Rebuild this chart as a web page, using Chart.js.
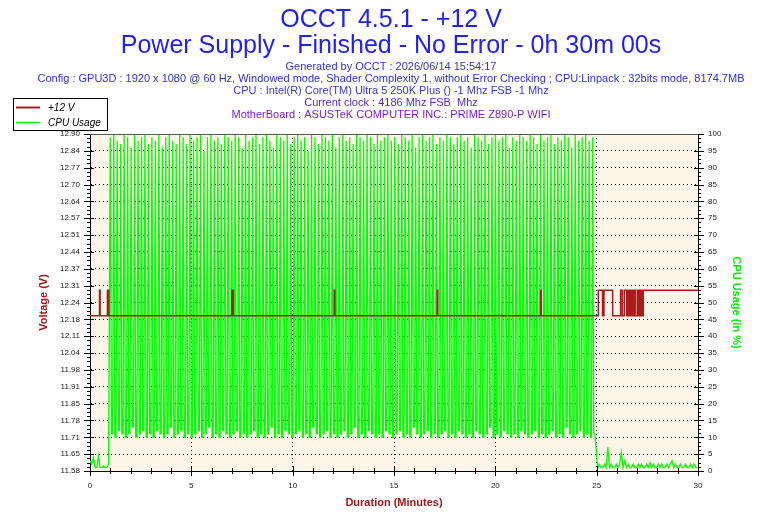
<!DOCTYPE html>
<html>
<head>
<meta charset="utf-8">
<title>OCCT 4.5.1 - +12 V</title>
<script src="https://cdn.jsdelivr.net/npm/chart.js@4.4.1/dist/chart.umd.min.js"></script>
<style>
  html, body { margin: 0; padding: 0; background: #fff; }
  #wrap { width: 780px; height: 520px; }
</style>
</head>
<body>
<div id="wrap"><canvas id="grafico" width="780" height="520"></canvas></div>
<script>
// Textos do cabeçalho
const titleText = ['OCCT 4.5.1 - +12 V', 'Power Supply - Finished - No Error - 0h 30m 00s'];
const infoText = [
  'Generated by OCCT : 2026/06/14 15:54:17',
  'Config : GPU3D : 1920 x 1080 @ 60 Hz, Windowed mode, Shader Complexity 1, without Error Checking ; CPU:Linpack : 32bits mode, 8174.7MB',
  'CPU : Intel(R) Core(TM) Ultra 5 250K Plus () -1 Mhz FSB -1 Mhz',
  'Current clock : 4186 Mhz FSB  Mhz',
  'MotherBoard : ASUSTeK COMPUTER INC.: PRIME Z890-P WIFI'
];

// Eixo da tensão (V)
const voltMin = 11.582;
const voltMax = 12.902;
const voltTickLabels = ['11.58', '11.65', '11.71', '11.78', '11.85', '11.91', '11.98', '12.04', '12.11', '12.18',
  '12.24', '12.31', '12.37', '12.44', '12.51', '12.57', '12.64', '12.70', '12.77', '12.84', '12.90'];

// +12 V: instantes de mudança (minutos) e valor lido
const voltTime = [0, 0.47, 0.50, 0.86, 0.93, 7.00, 7.07, 12.05, 12.08, 17.13, 17.16, 22.23, 22.26,
  25.08, 25.29, 25.36, 25.79, 26.18, 26.26, 26.36, 26.48, 26.53, 26.58, 26.64, 26.69, 26.76, 26.80,
  26.85, 26.90, 27.00, 27.05, 27.10, 27.15, 27.20, 27.27, 27.30, 30];
const voltValue = [12.19, 12.29, 12.19, 12.29, 12.19, 12.29, 12.19, 12.29, 12.19, 12.29, 12.19, 12.29, 12.19,
  12.29, 12.19, 12.29, 12.19, 12.29, 12.19, 12.29, 12.19, 12.29, 12.19, 12.29, 12.19, 12.29, 12.19,
  12.29, 12.19, 12.29, 12.19, 12.29, 12.19, 12.29, 12.19, 12.29, 12.29];

// CPU Usage (%): repouso antes do teste, amostras de 5 s
const cpuHead = [3, 2, 4, 1, 1, 4.5, 1, 1, 1.5, 1, 1, 2];
// Linpack: picos e vales de cada ciclo entre 1 e 25 min
const cpuHigh = [
  99, 100, 98, 97, 100, 99, 96, 100, 98, 99, 100, 97, 99, 98, 100, 96, 99, 100, 98, 97,
  100, 99, 97, 100, 98, 99, 100, 95, 99, 100, 98, 99, 97, 100, 99, 98, 100, 99, 96, 100,
  98, 99, 100, 97, 99, 100, 98, 96, 100, 99, 98, 100, 97, 99, 100, 98, 99, 95, 100, 99,
  97, 100, 99, 98, 100, 96, 99, 100, 98, 99, 97, 100, 99, 98, 100, 99, 97, 100, 98, 99,
  100, 98, 99, 97, 100, 99, 98, 100, 96, 99, 100, 98, 99, 100, 97, 99, 98, 100, 99, 97,
  99, 100, 98, 99, 96, 100, 99, 98, 100, 97, 99, 100, 98, 99, 100, 96, 99, 98, 100, 99,
  98, 100, 99, 97, 100, 98, 99, 100, 97, 99, 98, 100, 99, 96, 100, 98, 99, 100, 98, 99
];
const cpuLow = [
  11, 10, 12, 11, 10, 11, 13, 10, 11, 12, 10, 11, 10, 12, 11, 10, 11, 13, 10, 11,
  12, 10, 11, 10, 11, 12, 10, 11, 13, 10, 11, 10, 12, 11, 10, 11, 12, 10, 11, 10,
  11, 12, 10, 11, 10, 11, 13, 10, 11, 10, 12, 11, 10, 11, 12, 10, 11, 10, 13, 11,
  10, 11, 12, 10, 11, 10, 11, 12, 10, 11, 13, 10, 11, 10, 12, 11, 10, 11, 10, 12,
  11, 10, 11, 12, 10, 11, 10, 13, 11, 10, 11, 12, 10, 11, 10, 11, 12, 10, 11, 10,
  12, 11, 10, 11, 10, 12, 11, 10, 11, 13, 10, 11, 10, 12, 11, 10, 11, 10, 12, 11,
  10, 11, 12, 10, 11, 10, 11, 12, 10, 11, 10, 13, 11, 10, 11, 12, 10, 11, 10, 11
];
// depois do teste, amostras de 5 s a partir de 25.05 min
const cpuTail = [
  1, 2, 1, 1, 2, 1, 7, 1, 2, 1, 1, 2, 1, 2, 5.5, 1, 3, 1, 2, 1,
  1, 2, 1, 1, 2, 1, 2, 1, 1, 2, 1, 2.5, 1, 2, 1, 1, 2, 1, 2, 1,
  1, 2, 1, 2, 3, 1, 2, 1, 1, 2, 1, 1, 2, 1, 1, 2, 1, 2, 1, 1
];

const sampleStep = 5 / 60;
const runStart = 1.0;
const runEnd = 24.97;
const tailStart = 25.05;

const corTensao = '#a81c1c';
const corCpu = '#00ff00';

// Monta os pontos
const voltPoints = voltTime.map((t, i) => ({ x: t, y: voltValue[i] }));

const cpuPoints = [];
cpuHead.forEach((v, i) => cpuPoints.push({ x: i * sampleStep, y: v }));
const runStep = (runEnd - runStart) / (cpuHigh.length * 3);
cpuHigh.forEach((h, i) => {
  const t = runStart + i * 3 * runStep;
  cpuPoints.push({ x: t, y: h });
  cpuPoints.push({ x: t + runStep, y: cpuLow[i] });
  cpuPoints.push({ x: t + 2 * runStep, y: cpuLow[i] });
});
cpuTail.forEach((v, i) => cpuPoints.push({ x: tailStart + i * sampleStep, y: v }));

// Plugins de desenho
const fundo = {
  id: 'fundo',
  beforeDraw(chart) {
    const { ctx, chartArea: a } = chart;
    ctx.save();
    ctx.fillStyle = '#fff';
    ctx.fillRect(0, 0, chart.width, chart.height);
    ctx.fillStyle = '#fdf6e9';
    ctx.fillRect(a.left, a.top, a.right - a.left, a.bottom - a.top);
    ctx.restore();
  }
};

const cabecalho = {
  id: 'cabecalho',
  afterDraw(chart) {
    const ctx = chart.ctx;
    const cx = 391;
    ctx.save();
    ctx.textAlign = 'center';
    ctx.textBaseline = 'alphabetic';
    ctx.fillStyle = '#2222ee';
    ctx.font = '25px "Liberation Sans"';
    ctx.fillText(titleText[0], cx, 27);
    ctx.fillText(titleText[1], cx, 53);
    const cores = ['#3434d4', '#2e2ee6', '#3838d2', '#5529d6', '#7c1ed4'];
    ctx.font = '11px "Liberation Sans"';
    infoText.forEach((linha, i) => {
      ctx.fillStyle = cores[i];
      ctx.fillText(linha, cx, 70 + i * 12);
    });
    ctx.restore();
  }
};

const legendaBox = {
  id: 'legendaBox',
  afterDraw(chart) {
    const ctx = chart.ctx;
    ctx.save();
    ctx.fillStyle = '#fff';
    ctx.fillRect(13, 98, 95, 33);
    ctx.strokeStyle = '#000';
    ctx.lineWidth = 1;
    ctx.strokeRect(13.5, 98.5, 94, 32);
    ctx.font = 'italic 10px "Liberation Sans"';
    ctx.textBaseline = 'middle';
    chart.data.datasets.forEach((ds, i) => {
      const yy = 107.5 + i * 15;
      ctx.strokeStyle = ds.borderColor;
      ctx.lineWidth = i === 0 ? 2 : 1.5;
      ctx.beginPath();
      ctx.moveTo(16, yy);
      ctx.lineTo(40, yy);
      ctx.stroke();
      ctx.fillStyle = '#000';
      ctx.fillText(ds.label, 48, yy + 1);
    });
    ctx.restore();
  }
};

const marcas = {
  id: 'marcas',
  afterDraw(chart) {
    const { ctx, chartArea: a, scales: { x, y1 } } = chart;
    ctx.save();
    ctx.strokeStyle = '#000';
    ctx.lineWidth = 1;
    ctx.beginPath();
    // eixo X: um traço por minuto, maior a cada 5
    for (let m = 0; m <= 30; m++) {
      const px = Math.round(x.getPixelForValue(m)) + 0.5;
      const len = m % 5 === 0 ? 5 : 3;
      ctx.moveTo(px, a.bottom - len);
      ctx.lineTo(px, a.bottom + len);
    }
    // eixos Y: quatro subdivisões por intervalo
    for (let k = 0; k <= 80; k++) {
      const py = Math.round(y1.getPixelForValue(k * 1.25)) + 0.5;
      const major = k % 4 === 0;
      ctx.moveTo(a.left - (major ? 6 : 3), py);
      ctx.lineTo(a.left + (major ? 4 : 0), py);
      ctx.moveTo(a.right - (major ? 4 : 0), py);
      ctx.lineTo(a.right + (major ? 6 : 3), py);
    }
    ctx.stroke();
    ctx.beginPath();
    ctx.strokeStyle = '#555';
    ctx.moveTo(a.left, Math.round(a.top) + 0.5);
    ctx.lineTo(a.right, Math.round(a.top) + 0.5);
    ctx.stroke();
    ctx.restore();
  }
};

Chart.defaults.font.family = '"Liberation Sans", Arial, sans-serif';

const tickFont = { family: '"Liberation Sans"', size: 8 };
const titleFont = { family: '"Liberation Sans"', size: 11, weight: 'bold' };
const gridOpts = { color: '#000', lineWidth: 1, drawTicks: false };

const ctx = document.getElementById('grafico').getContext('2d');
const grafico = new Chart(ctx, {
  type: 'line',
  data: {
    datasets: [
      {
        label: '+12 V',
        data: voltPoints,
        yAxisID: 'y',
        borderColor: corTensao,
        borderWidth: 1.5,
        stepped: true,
        pointRadius: 0
      },
      {
        label: 'CPU Usage',
        data: cpuPoints,
        yAxisID: 'y1',
        borderColor: corCpu,
        borderWidth: 1.3,
        pointRadius: 0
      }
    ]
  },
  options: {
    responsive: false,
    animation: false,
    devicePixelRatio: 1,
    layout: { padding: { top: 134, left: 0, right: 0, bottom: 0 } },
    plugins: {
      legend: { display: false },
      tooltip: { enabled: false }
    },
    scales: {
      x: {
        type: 'linear',
        min: 0,
        max: 30,
        ticks: { stepSize: 5, font: tickFont, color: '#222', padding: 10, maxRotation: 0 },
        grid: gridOpts,
        border: { color: '#000', dash: [1, 3] },
        title: { display: true, text: 'Duration (Minutes)', color: '#a01818', font: titleFont, padding: { top: 0, bottom: 10 } },
        afterFit: s => { s.height = 49; }
      },
      y: {
        position: 'left',
        min: voltMin,
        max: voltMax,
        ticks: {
          stepSize: 0.066,
          font: tickFont,
          color: '#222',
          padding: 10,
          callback: (v, i) => voltTickLabels[i]
        },
        grid: gridOpts,
        border: { color: '#000', dash: [1, 3] },
        title: { display: true, text: 'Voltage (V)', color: '#a01818', font: titleFont, padding: { top: 37, bottom: 0 } },
        afterFit: s => { s.width = 90; }
      },
      y1: {
        position: 'right',
        min: 0,
        max: 100,
        ticks: { stepSize: 5, font: tickFont, color: '#222', padding: 10 },
        grid: { display: false, drawTicks: false },
        border: { color: '#000' },
        title: { display: true, text: 'CPU Usage (in %)', color: '#00ee00', font: titleFont, padding: { top: 37, bottom: 0 } },
        afterFit: s => { s.width = 82; }
      }
    }
  },
  plugins: [fundo, cabecalho, legendaBox, marcas]
});
</script>
</body>
</html>
